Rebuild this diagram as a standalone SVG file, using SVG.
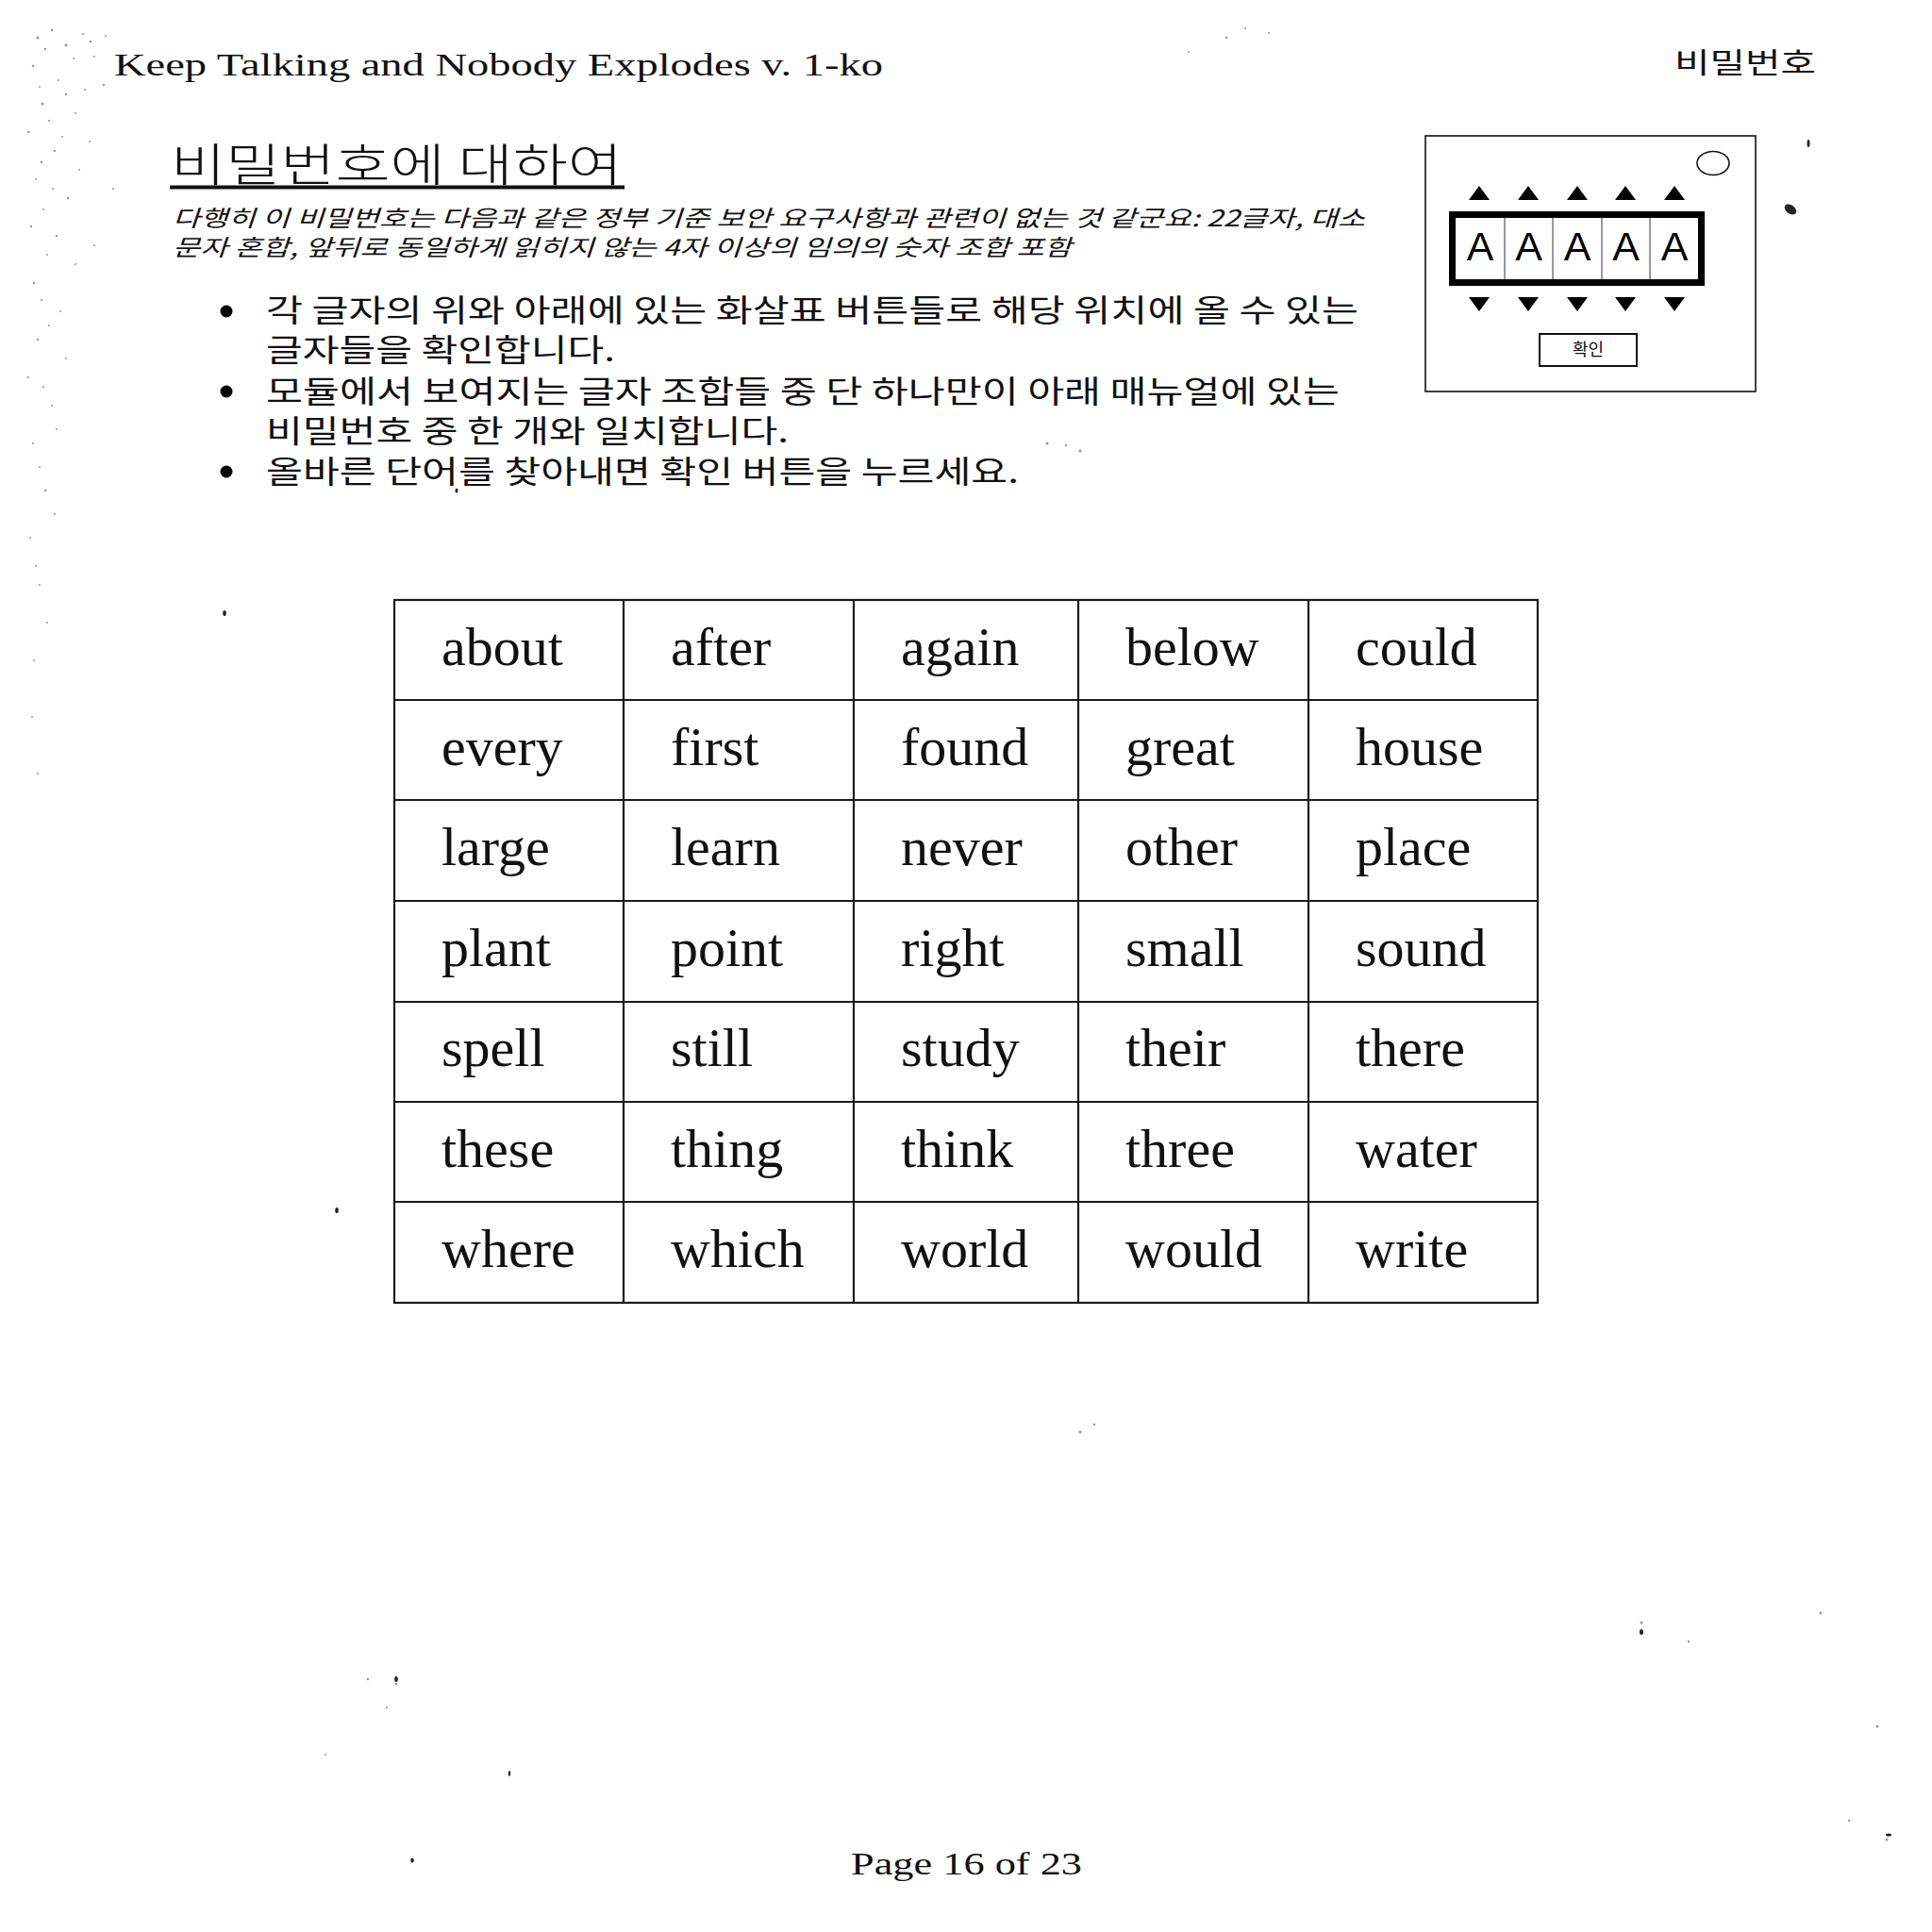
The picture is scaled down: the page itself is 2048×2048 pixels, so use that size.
<svg xmlns="http://www.w3.org/2000/svg" width="2048" height="2048" viewBox="0 0 2048 2048">
<style>
.serif{font-family:"Liberation Serif","Times New Roman",serif;fill:#111}
.kr{font-family:"Noto Sans CJK KR","Noto Sans",sans-serif;fill:#111}
.cell{font-family:"Liberation Serif","Times New Roman",serif;font-size:58px;fill:#111}
.grid{stroke:#1a1a1a;stroke-width:2.2;fill:none}
.tri{fill:#000}
.speck{fill:#555}
</style>
<rect width="2048" height="2048" fill="#fff"/>
<g id="noise" opacity="0.6">
<circle class="speck" cx="40" cy="40" r="1.5"/><circle class="speck" cx="55" cy="32" r="1.2"/><circle class="speck" cx="70" cy="48" r="1.4"/><circle class="speck" cx="88" cy="36" r="1"/><circle class="speck" cx="35" cy="70" r="1.3"/><circle class="speck" cx="62" cy="85" r="1.1"/><circle class="speck" cx="45" cy="110" r="1.5"/><circle class="speck" cx="80" cy="120" r="1"/><circle class="speck" cx="30" cy="140" r="1.3"/><circle class="speck" cx="58" cy="160" r="1.2"/><circle class="speck" cx="38" cy="190" r="1"/><circle class="speck" cx="72" cy="210" r="1.3"/><circle class="speck" cx="33" cy="240" r="1.2"/><circle class="speck" cx="50" cy="270" r="1"/><circle class="speck" cx="36" cy="300" r="1.3"/><circle class="speck" cx="64" cy="330" r="1"/><circle class="speck" cx="40" cy="360" r="1.2"/><circle class="speck" cx="30" cy="400" r="1"/><circle class="speck" cx="55" cy="430" r="1.1"/><circle class="speck" cx="35" cy="470" r="1"/><circle class="speck" cx="48" cy="520" r="1.2"/><circle class="speck" cx="32" cy="570" r="1"/><circle class="speck" cx="42" cy="620" r="1"/><circle class="speck" cx="36" cy="700" r="1"/><circle class="speck" cx="100" cy="60" r="1"/><circle class="speck" cx="110" cy="90" r="1.2"/><circle class="speck" cx="95" cy="150" r="1"/><circle class="speck" cx="120" cy="200" r="1"/><circle class="speck" cx="100" cy="260" r="1"/>
<circle class="speck" cx="48" cy="52" r="1.2"/><circle class="speck" cx="78" cy="62" r="1"/><circle class="speck" cx="96" cy="44" r="1.3"/><circle class="speck" cx="112" cy="38" r="1"/><circle class="speck" cx="42" cy="92" r="1"/><circle class="speck" cx="70" cy="100" r="1.2"/><circle class="speck" cx="90" cy="95" r="1"/><circle class="speck" cx="52" cy="128" r="1.1"/><circle class="speck" cx="66" cy="145" r="1"/><circle class="speck" cx="44" cy="172" r="1.2"/><circle class="speck" cx="84" cy="180" r="1"/><circle class="speck" cx="56" cy="200" r="1.1"/><circle class="speck" cx="46" cy="222" r="1"/><circle class="speck" cx="60" cy="250" r="1.2"/><circle class="speck" cx="80" cy="280" r="1"/><circle class="speck" cx="44" cy="318" r="1.1"/><circle class="speck" cx="52" cy="345" r="1"/><circle class="speck" cx="70" cy="380" r="1"/><circle class="speck" cx="46" cy="410" r="1.1"/><circle class="speck" cx="60" cy="455" r="1"/><circle class="speck" cx="42" cy="495" r="1"/><circle class="speck" cx="58" cy="545" r="1"/><circle class="speck" cx="38" cy="600" r="1.1"/><circle class="speck" cx="50" cy="660" r="1"/><circle class="speck" cx="34" cy="760" r="1"/><circle class="speck" cx="40" cy="820" r="1"/>
<circle class="speck" cx="1300" cy="40" r="1.2"/><circle class="speck" cx="1320" cy="30" r="1"/><circle class="speck" cx="1345" cy="35" r="1"/><circle class="speck" cx="1260" cy="55" r="1"/>
<circle class="speck" cx="1110" cy="470" r="1.5"/><circle class="speck" cx="1130" cy="472" r="1.2"/><circle class="speck" cx="1145" cy="478" r="1.5"/>
<circle class="speck" cx="1930" cy="1710" r="1.5"/><circle class="speck" cx="1740" cy="1720" r="1.5"/><circle class="speck" cx="1790" cy="1740" r="1.2"/><circle class="speck" cx="1990" cy="1830" r="1.5"/><circle class="speck" cx="1960" cy="1930" r="1.2"/><circle class="speck" cx="2000" cy="1950" r="1.5"/>
<circle class="speck" cx="390" cy="1780" r="1.3"/><circle class="speck" cx="420" cy="1785" r="1.3"/><circle class="speck" cx="410" cy="1810" r="1"/><circle class="speck" cx="345" cy="1860" r="1"/>
<circle class="speck" cx="1145" cy="1518" r="1.5"/><circle class="speck" cx="1160" cy="1510" r="1.2"/>
</g>
<g id="marks" fill="#222">
<ellipse cx="1898" cy="222" rx="7" ry="4.5" transform="rotate(35 1898 222)"/>
<ellipse cx="1917" cy="152" rx="1.5" ry="4"/>
<ellipse cx="238" cy="650" rx="1.8" ry="3"/>
<ellipse cx="357" cy="1283" rx="1.8" ry="3"/>
<ellipse cx="484" cy="520" rx="1.5" ry="2.5"/>
<ellipse cx="1740" cy="1730" rx="2" ry="3"/>
<ellipse cx="2002" cy="1945" rx="3" ry="1.5"/>
<ellipse cx="540" cy="1880" rx="1.2" ry="3"/>
<ellipse cx="437" cy="1972" rx="1.8" ry="2.5"/>
<ellipse cx="420" cy="1780" rx="1.8" ry="3"/>
</g>
<g id="header">
<text class="serif" x="121" y="80" font-size="33" textLength="815" lengthAdjust="spacingAndGlyphs">Keep Talking and Nobody Explodes v. 1-ko</text>
<text class="kr" x="1775" y="77" font-size="30" textLength="150" lengthAdjust="spacingAndGlyphs">비밀번호</text>
</g>
<g id="title">
<text class="kr" x="181" y="192" font-size="48" font-weight="300" textLength="479" lengthAdjust="spacingAndGlyphs">비밀번호에 대하여</text>
<rect x="180" y="196.5" width="482" height="4" fill="#111"/>
</g>
<g id="intro">
<text class="kr" x="183" y="240" font-size="24" font-style="italic" textLength="1264" lengthAdjust="spacingAndGlyphs">다행히 이 비밀번호는 다음과 같은 정부 기준 보안 요구사항과 관련이 없는 것 같군요: 22글자, 대소</text>
<text class="kr" x="183" y="271" font-size="24" font-style="italic" textLength="953" lengthAdjust="spacingAndGlyphs">문자 혼합, 앞뒤로 동일하게 읽히지 않는 4자 이상의 임의의 숫자 조합 포함</text>
</g>
<g id="bullets">
<circle cx="240" cy="330" r="6.5" fill="#000"/>
<circle cx="240" cy="415" r="6.5" fill="#000"/>
<circle cx="240" cy="500" r="6.5" fill="#000"/>
<text class="kr" x="282" y="341" font-size="33" textLength="1158" lengthAdjust="spacingAndGlyphs">각 글자의 위와 아래에 있는 화살표 버튼들로 해당 위치에 올 수 있는</text>
<text class="kr" x="282" y="383" font-size="33" textLength="370" lengthAdjust="spacingAndGlyphs">글자들을 확인합니다.</text>
<text class="kr" x="282" y="427" font-size="33" textLength="1138" lengthAdjust="spacingAndGlyphs">모듈에서 보여지는 글자 조합들 중 단 하나만이 아래 매뉴얼에 있는</text>
<text class="kr" x="282" y="469" font-size="33" textLength="554" lengthAdjust="spacingAndGlyphs">비밀번호 중 한 개와 일치합니다.</text>
<text class="kr" x="282" y="512" font-size="33" textLength="798" lengthAdjust="spacingAndGlyphs">올바른 단어를 찾아내면 확인 버튼을 누르세요.</text>
</g>
<g id="module">
<rect x="1511" y="144" width="350" height="271" fill="#fff" stroke="#111" stroke-width="1.6"/>
<ellipse cx="1816" cy="173" rx="17" ry="12.5" fill="none" stroke="#111" stroke-width="1.6"/>
<g class="tri">
<polygon points="1557,212 1579,212 1568,197"/>
<polygon points="1609,212 1631,212 1620,197"/>
<polygon points="1661,212 1683,212 1672,197"/>
<polygon points="1712,212 1734,212 1723,197"/>
<polygon points="1764,212 1786,212 1775,197"/>
<polygon points="1557,315 1579,315 1568,330"/>
<polygon points="1609,315 1631,315 1620,330"/>
<polygon points="1661,315 1683,315 1672,330"/>
<polygon points="1712,315 1734,315 1723,330"/>
<polygon points="1764,315 1786,315 1775,330"/>
</g>
<rect x="1539.5" y="227.5" width="264" height="72" fill="#fff" stroke="#000" stroke-width="7"/>
<g stroke="#555" stroke-width="1.2">
<line x1="1595" y1="231" x2="1595" y2="296"/>
<line x1="1646" y1="231" x2="1646" y2="296"/>
<line x1="1698" y1="231" x2="1698" y2="296"/>
<line x1="1749" y1="231" x2="1749" y2="296"/>
</g>
<g font-family="Liberation Sans, Arial, sans-serif" font-size="43" text-anchor="middle" fill="#000">
<text x="1569" y="276">A</text>
<text x="1620.5" y="276">A</text>
<text x="1672" y="276">A</text>
<text x="1723.5" y="276">A</text>
<text x="1775" y="276">A</text>
</g>
<rect x="1632" y="354" width="103" height="34" fill="#fff" stroke="#111" stroke-width="2"/>
<text class="kr" x="1683.5" y="377" font-size="18" text-anchor="middle">확인</text>
</g>
<g id="table">
<rect class="grid" x="418" y="636" width="1212" height="745"/>
<g class="grid">
<line x1="661" y1="636" x2="661" y2="1381"/>
<line x1="905" y1="636" x2="905" y2="1381"/>
<line x1="1143" y1="636" x2="1143" y2="1381"/>
<line x1="1387" y1="636" x2="1387" y2="1381"/>
<line x1="418" y1="742" x2="1630" y2="742"/>
<line x1="418" y1="848" x2="1630" y2="848"/>
<line x1="418" y1="955" x2="1630" y2="955"/>
<line x1="418" y1="1062" x2="1630" y2="1062"/>
<line x1="418" y1="1168" x2="1630" y2="1168"/>
<line x1="418" y1="1274" x2="1630" y2="1274"/>
</g>
<g class="cell">
<text x="468" y="705">about</text><text x="711" y="705">after</text><text x="955" y="705">again</text><text x="1193" y="705">below</text><text x="1437" y="705">could</text>
<text x="468" y="811">every</text><text x="711" y="811">first</text><text x="955" y="811">found</text><text x="1193" y="811">great</text><text x="1437" y="811">house</text>
<text x="468" y="917">large</text><text x="711" y="917">learn</text><text x="955" y="917">never</text><text x="1193" y="917">other</text><text x="1437" y="917">place</text>
<text x="468" y="1024">plant</text><text x="711" y="1024">point</text><text x="955" y="1024">right</text><text x="1193" y="1024">small</text><text x="1437" y="1024">sound</text>
<text x="468" y="1130">spell</text><text x="711" y="1130">still</text><text x="955" y="1130">study</text><text x="1193" y="1130">their</text><text x="1437" y="1130">there</text>
<text x="468" y="1237">these</text><text x="711" y="1237">thing</text><text x="955" y="1237">think</text><text x="1193" y="1237">three</text><text x="1437" y="1237">water</text>
<text x="468" y="1343">where</text><text x="711" y="1343">which</text><text x="955" y="1343">world</text><text x="1193" y="1343">would</text><text x="1437" y="1343">write</text>
</g>
</g>
<g id="footer">
<text class="serif" x="902" y="1987" font-size="33" textLength="245" lengthAdjust="spacingAndGlyphs">Page 16 of 23</text>
</g>
</svg>
